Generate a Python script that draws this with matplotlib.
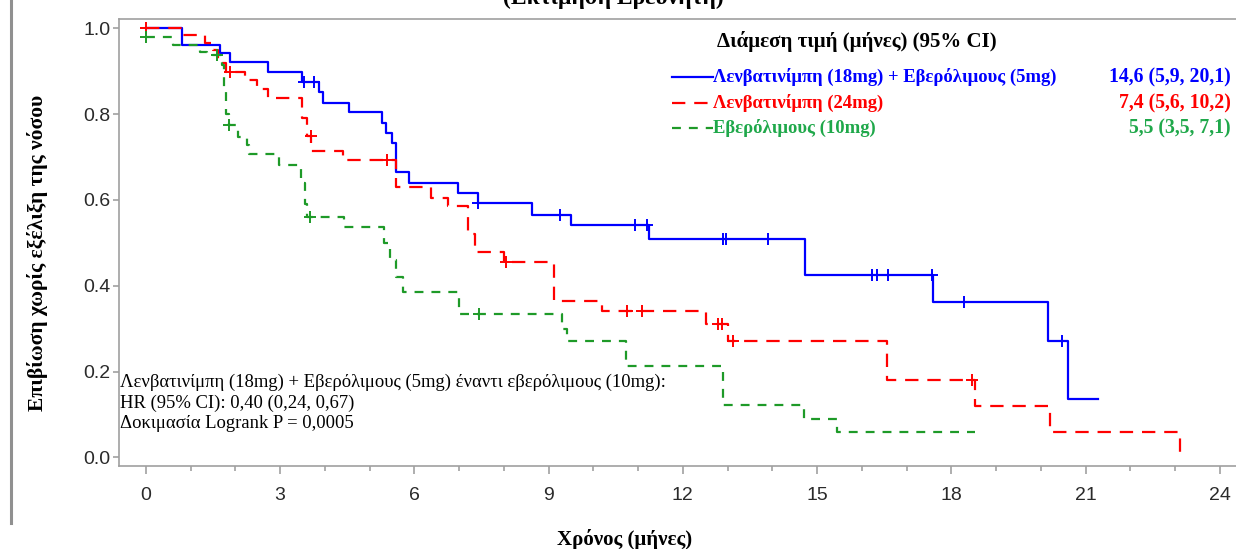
import numpy as np
import matplotlib
matplotlib.use("Agg")
import matplotlib.pyplot as plt
from matplotlib.lines import Line2D

# Kaplan-Meier step data (months, survival)
blue_t = [0, 0.81, 1.66, 1.87, 2.72, 3.5, 3.87, 3.95, 4.54, 5.28, 5.37, 5.5, 5.6,
          5.89, 6.97, 7.42, 8.63, 9.51, 11.24, 14.72, 17.6, 20.16, 20.6, 21.28]
blue_s = [1.0, 0.96, 0.942, 0.921, 0.898, 0.875, 0.852, 0.826, 0.805, 0.78, 0.756,
          0.733, 0.664, 0.64, 0.617, 0.594, 0.566, 0.541, 0.51, 0.425, 0.362, 0.271,
          0.137, 0.137]
blue_cens = [3.53, 3.75, 7.42, 9.26, 10.94, 11.19, 12.9, 12.97, 13.91, 16.22,
             16.34, 16.58, 17.57, 18.29, 20.47]

red_t = [0, 0.81, 1.33, 1.5, 1.62, 1.78, 2.22, 2.49, 2.72, 3.5, 3.6, 3.7, 4.4,
         5.6, 6.38, 6.76, 7.19, 7.35, 8.0, 9.12, 10.2, 12.52, 13.0, 16.56, 18.52,
         20.2, 23.12]
red_s = [1.0, 0.984, 0.965, 0.949, 0.92, 0.898, 0.879, 0.858, 0.837, 0.79, 0.75,
         0.715, 0.694, 0.631, 0.605, 0.585, 0.52, 0.478, 0.455, 0.364, 0.341, 0.311,
         0.272, 0.181, 0.12, 0.06, 0.0]
red_cens = [0.0, 1.89, 3.69, 5.38, 8.04, 10.76, 11.08, 12.79, 12.88, 13.12, 18.47]

green_t = [0, 0.6, 1.22, 1.37, 1.71, 1.75, 1.8, 1.85, 2.07, 2.27, 2.3, 2.97, 3.47,
           3.55, 3.6, 4.43, 5.33, 5.45, 5.6, 5.75, 7.0, 9.3, 9.4, 10.72, 12.9,
           14.7, 15.45, 18.52]
green_s = [0.979, 0.96, 0.944, 0.937, 0.914, 0.86, 0.8, 0.775, 0.747, 0.728, 0.706,
           0.682, 0.64, 0.59, 0.561, 0.538, 0.5, 0.46, 0.42, 0.385, 0.334, 0.3,
           0.272, 0.213, 0.121, 0.09, 0.06, 0.06]
green_cens = [0.0, 1.6, 1.85, 3.67, 7.44]

labels = ["Λενβατινίμπη (18mg) + Εβερόλιμους (5mg)",
          "Λενβατινίμπη (24mg)",
          "Εβερόλιμους (10mg)"]
medians = ["14,6 (5,9, 20,1)", "7,4 (5,6, 10,2)", "5,5 (3,5, 7,1)"]
annot = ["Λενβατινίμπη (18mg) + Εβερόλιμους (5mg) έναντι εβερόλιμους (10mg):",
         "HR (95% CI): 0,40 (0,24, 0,67)",
         "Δοκιμασία Logrank P = 0,0005"]

W, H = 1236, 549
SERIF = "Liberation Serif"
SANS = "Liberation Sans"
BLUE, RED, GREEN = "#0000FF", "#FF0000", "#1E9A28"
GREEN_TXT = "#1FA84A"


def fx(px):
    return px / W


def fy(py):
    return 1 - py / H


def surv_at(t, s, times):
    idx = np.searchsorted(np.asarray(t), np.asarray(times), side="right") - 1
    return np.asarray(s)[idx]


fig = plt.figure(figsize=(W / 100, H / 100), dpi=100)
ax = fig.add_axes([fx(119), fy(466), fx(1240) - fx(119), fy(19) - fy(466)])

lw = 1.6
curves = [
    (blue_t, blue_s, blue_cens, BLUE, "-"),
    (red_t, red_s, red_cens, RED, (0, (6.0, 4.0))),
    (green_t, green_s, green_cens, GREEN, (0, (4.0, 3.6))),
]
for t, s, cens, col, ls in curves:
    ax.step(t, s, where="post", color=col, lw=lw, linestyle=ls)
    ax.plot(cens, surv_at(t, s, cens), linestyle="none", marker="+",
            color=col, markersize=9, markeredgewidth=1.4)

ax.set_xlim(-0.6, 24.45)
ax.set_ylim(-0.02, 1.0217)
ax.set_xticks(np.arange(0, 25, 3))
ax.set_xticks(np.arange(0, 25, 1), minor=True)
ax.set_yticks(np.arange(0, 1.01, 0.2))
ax.set_yticklabels([f"{v:.1f}" for v in np.arange(0, 1.01, 0.2)])
ax.tick_params(axis="x", which="major", length=6, width=1.1, color="#999999",
               labelsize=14, labelcolor="#2a2a2a", pad=9)
ax.tick_params(axis="x", which="minor", length=3.5, width=1.1, color="#999999")
ax.tick_params(axis="y", length=4, width=1.1, color="#999999",
               labelsize=14, labelcolor="#2a2a2a", pad=2)
for lab in ax.get_xticklabels() + ax.get_yticklabels():
    lab.set_fontfamily(SANS)
for side in ("left", "bottom", "top"):
    ax.spines[side].set_color("#A0A0A0")
    ax.spines[side].set_linewidth(1.2)
ax.spines["right"].set_visible(False)

# axis labels
fig.text(fx(38), fy(253), "Επιβίωση χωρίς εξέλιξη της νόσου", rotation=90,
         ha="center", va="center", fontsize=15.5, fontweight="bold", family=SERIF)
fig.text(fx(625), fy(540), "Χρόνος (μήνες)", ha="center", va="center",
         fontsize=15, fontweight="bold", family=SERIF)
fig.text(fx(613), fy(4), "(Εκτίμηση Ερευνητή)", ha="center", va="baseline",
         fontsize=17, fontweight="bold", family=SERIF)

# left page border
fig.add_artist(Line2D([fx(10.5), fx(10.5)], [fy(0), fy(523)], color="#909090", lw=2.2))

# legend block
fig.text(fx(717), fy(41), "Διάμεση τιμή (μήνες) (95% CI)", ha="left", va="center",
         fontsize=15, fontweight="bold", family=SERIF)
rows_y = [77, 103, 128]
styles = ["-", (0, (6.0, 4.0)), (0, (4.0, 3.6))]
for y, lab, med, col, tcol, ls in zip(rows_y, labels, medians,
                                       [BLUE, RED, GREEN], [BLUE, RED, GREEN_TXT], styles):
    fig.add_artist(Line2D([fx(672), fx(713)], [fy(y), fy(y)], color=col, lw=lw,
                          linestyle=ls))
    fig.text(fx(713), fy(y), lab, ha="left", va="center", color=tcol,
             fontsize=13.4, fontweight="bold", family=SERIF)
    fig.text(fx(1231), fy(y), med, ha="right", va="center", color=tcol,
             fontsize=14.2, fontweight="bold", family=SERIF)

# hazard ratio annotation
for y, line in zip([382, 403, 424], annot):
    fig.text(fx(120), fy(y), line, ha="left", va="center", fontsize=13.4,
             family=SERIF, color="black")

fig.savefig("out.png", dpi=100)
